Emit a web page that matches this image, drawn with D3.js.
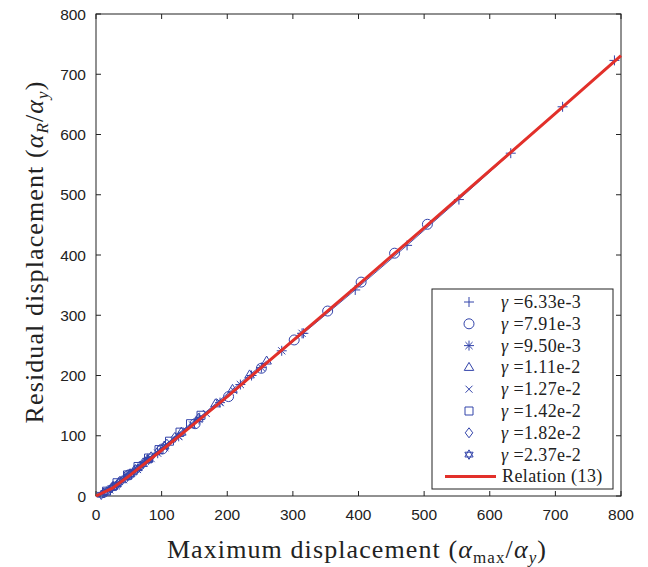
<!DOCTYPE html>
<html lang="en">
<head>
<meta charset="UTF-8" />
<title>Residual vs maximum displacement</title>
<script src="https://cdn.jsdelivr.net/npm/d3@7"></script>
<style>
  body { margin: 0; background: #fff; }
  .tick-label { font: 15.5px "Liberation Sans", Arial, sans-serif; fill: #222; }
  .axis-title { font: 26px "Liberation Serif", "DejaVu Serif", serif; fill: #222; letter-spacing: 1.1px; }
  .legend-text { font: 18px "Liberation Serif", "DejaVu Serif", serif; fill: #222; letter-spacing: 0.4px; }
</style>
</head>
<body>
<script>
// values
const gammaLabels = ["6.33e-3", "7.91e-3", "9.50e-3", "1.11e-2", "1.27e-2", "1.42e-2", "1.82e-2", "2.37e-2"];
const markerTypes = ["plus", "circle", "asterisk", "triangle", "cross", "square", "diamond", "hexagram"];

const s1x = [79, 158, 237, 316, 395, 474, 553, 632, 711, 790];
const s1y = [62, 130, 200, 270, 342, 416, 492, 569, 646, 723];
const s2x = [50, 101, 151, 202, 252, 302, 353, 404, 455, 505];
const s2y = [35, 78, 120, 165, 212, 259, 307, 355, 403, 451];
const s3x = [31, 63, 94, 126, 157, 189, 220, 252, 283, 314];
const s3y = [17, 44, 71, 99, 127, 155, 185, 213, 241, 270];
const s4x = [26, 52, 78, 104, 130, 156, 182, 208, 234, 260];
const s4y = [16, 37, 60, 83, 106, 129, 153, 177, 201, 224];
const s5x = [21, 42, 63, 84, 105, 126, 147, 168, 189, 210];
const s5y = [10, 27, 44, 62, 80, 99, 118, 137, 156, 175];
const s6x = [16, 32, 48, 64, 80, 96, 112, 128, 144, 160];
const s6y = [8, 22, 35, 49, 63, 77, 91, 106, 120, 134];
const s7x = [12, 24, 36, 48, 60, 72, 84, 96, 108, 120];
const s7y = [5, 14, 24, 34, 44, 55, 65, 76, 86, 97];
const s8x = [8, 16, 24, 32, 40, 48, 56, 64, 72, 80];
const s8y = [2, 7, 13, 19, 26, 32, 39, 46, 53, 60];

// Relation (13), red curve
const relX = [0, 25, 50, 100, 150, 200, 300, 400, 500, 600, 700, 800];
const relY = [0, 13, 33, 76, 120, 165, 258, 351, 445, 540, 635, 731];

const xTicks = [0, 100, 200, 300, 400, 500, 600, 700, 800];
const yTicks = [0, 100, 200, 300, 400, 500, 600, 700, 800];

const seriesX = [s1x, s2x, s3x, s4x, s5x, s6x, s7x, s8x];
const seriesY = [s1y, s2y, s3y, s4y, s5y, s6y, s7y, s8y];

const W = 648, H = 567;
const pLeft = 96, pTop = 14, pRight = 621, pBottom = 496;
const blue = "#3344aa", red = "#e2302a";

const svg = d3.select("body").append("svg").attr("width", W).attr("height", H);

const x = d3.scaleLinear().domain([0, 800]).range([pLeft, pRight]);
const y = d3.scaleLinear().domain([0, 800]).range([pBottom, pTop]);

function markerPath(type, s) {
  const p = d3.path();
  if (type === "plus") {
    p.moveTo(-s, 0); p.lineTo(s, 0); p.moveTo(0, -s); p.lineTo(0, s);
  } else if (type === "circle") {
    p.moveTo(s, 0); p.arc(0, 0, s, 0, 2 * Math.PI);
  } else if (type === "asterisk") {
    p.moveTo(-s, 0); p.lineTo(s, 0); p.moveTo(0, -s); p.lineTo(0, s);
    const d = s * 0.72;
    p.moveTo(-d, -d); p.lineTo(d, d); p.moveTo(-d, d); p.lineTo(d, -d);
  } else if (type === "triangle") {
    p.moveTo(0, -s); p.lineTo(s * 0.95, s * 0.6); p.lineTo(-s * 0.95, s * 0.6); p.closePath();
  } else if (type === "cross") {
    const d = s * 0.7;
    p.moveTo(-d, -d); p.lineTo(d, d); p.moveTo(-d, d); p.lineTo(d, -d);
  } else if (type === "square") {
    const d = s * 0.8;
    p.rect(-d, -d, 2 * d, 2 * d);
  } else if (type === "diamond") {
    p.moveTo(0, -s); p.lineTo(s * 0.75, 0); p.lineTo(0, s); p.lineTo(-s * 0.75, 0); p.closePath();
  } else if (type === "hexagram") {
    const r = s * 0.95;
    for (const off of [-Math.PI / 2, Math.PI / 2]) {
      for (let k = 0; k < 3; k++) {
        const a = off + k * 2 * Math.PI / 3;
        if (k === 0) p.moveTo(r * Math.cos(a), r * Math.sin(a));
        else p.lineTo(r * Math.cos(a), r * Math.sin(a));
      }
      p.closePath();
    }
  }
  return p.toString();
}

// axes box
svg.append("rect")
  .attr("x", pLeft).attr("y", pTop)
  .attr("width", pRight - pLeft).attr("height", pBottom - pTop)
  .attr("fill", "none").attr("stroke", "#222").attr("stroke-width", 1);

// ticks inward on all sides
const tl = 5;
xTicks.forEach(t => {
  svg.append("line").attr("x1", x(t)).attr("x2", x(t)).attr("y1", pBottom).attr("y2", pBottom - tl).attr("stroke", "#222");
  svg.append("line").attr("x1", x(t)).attr("x2", x(t)).attr("y1", pTop).attr("y2", pTop + tl).attr("stroke", "#222");
  svg.append("text").attr("class", "tick-label")
    .attr("x", x(t)).attr("y", pBottom + 24).attr("text-anchor", "middle").text(t);
});
yTicks.forEach(t => {
  svg.append("line").attr("x1", pLeft).attr("x2", pLeft + tl).attr("y1", y(t)).attr("y2", y(t)).attr("stroke", "#222");
  svg.append("line").attr("x1", pRight).attr("x2", pRight - tl).attr("y1", y(t)).attr("y2", y(t)).attr("stroke", "#222");
  svg.append("text").attr("class", "tick-label")
    .attr("x", pLeft - 10).attr("y", y(t) + 5.5).attr("text-anchor", "end").text(t);
});

// data series
const plot = svg.append("g");
const line = d3.line().x(d => x(d[0])).y(d => y(d[1]));
seriesX.forEach((xs, i) => {
  const pts = xs.map((v, j) => [v, seriesY[i][j]]);
  plot.append("path").attr("d", line([[0, 0], ...pts]))
    .attr("fill", "none").attr("stroke", blue).attr("stroke-width", 0.9);
  plot.selectAll(null).data(pts).enter().append("path")
    .attr("transform", d => `translate(${x(d[0])},${y(d[1])})`)
    .attr("d", markerPath(markerTypes[i], 5))
    .attr("fill", "none").attr("stroke", blue).attr("stroke-width", 1);
});

// relation curve
plot.append("path")
  .attr("d", line(relX.map((v, j) => [v, relY[j]])))
  .attr("fill", "none").attr("stroke", red).attr("stroke-width", 3);

// axis titles
const xt = svg.append("text").attr("class", "axis-title")
  .attr("x", 357).attr("y", 558).attr("text-anchor", "middle");
xt.append("tspan").text("Maximum displacement (");
xt.append("tspan").attr("font-style", "italic").text("α");
xt.append("tspan").attr("font-size", "17px").attr("dy", 5).text("max");
xt.append("tspan").attr("dy", -5).text("/");
xt.append("tspan").attr("font-style", "italic").text("α");
xt.append("tspan").attr("font-size", "17px").attr("font-style", "italic").attr("dy", 5).text("y");
xt.append("tspan").attr("dy", -5).text(")");

const yt = svg.append("text").attr("class", "axis-title")
  .attr("transform", "translate(43,252) rotate(-90)")
  .attr("text-anchor", "middle");
yt.append("tspan").text("Residual displacement (");
yt.append("tspan").attr("font-style", "italic").text("α");
yt.append("tspan").attr("font-size", "17px").attr("font-style", "italic").attr("dy", 5).text("R");
yt.append("tspan").attr("dy", -5).text("/");
yt.append("tspan").attr("font-style", "italic").text("α");
yt.append("tspan").attr("font-size", "17px").attr("font-style", "italic").attr("dy", 5).text("y");
yt.append("tspan").attr("dy", -5).text(")");

// legend
const lg = svg.append("g");
lg.append("rect").attr("x", 432).attr("y", 289).attr("width", 181).attr("height", 200)
  .attr("fill", "#fff").attr("stroke", "#222").attr("stroke-width", 1);
gammaLabels.forEach((g, i) => {
  const cy = 302 + i * 21.8;
  lg.append("path").attr("transform", `translate(469,${cy})`)
    .attr("d", markerPath(markerTypes[i], 5))
    .attr("fill", "none").attr("stroke", blue).attr("stroke-width", 1);
  const t = lg.append("text").attr("class", "legend-text").attr("x", 501).attr("y", cy + 6);
  t.append("tspan").attr("font-style", "italic").text("γ");
  t.append("tspan").text(" =" + g);
});
const ry = 302 + 8 * 21.8;
lg.append("line").attr("x1", 445).attr("x2", 496).attr("y1", ry).attr("y2", ry)
  .attr("stroke", red).attr("stroke-width", 3);
lg.append("text").attr("class", "legend-text").attr("x", 502).attr("y", ry + 6).text("Relation (13)");
</script>
</body>
</html>
